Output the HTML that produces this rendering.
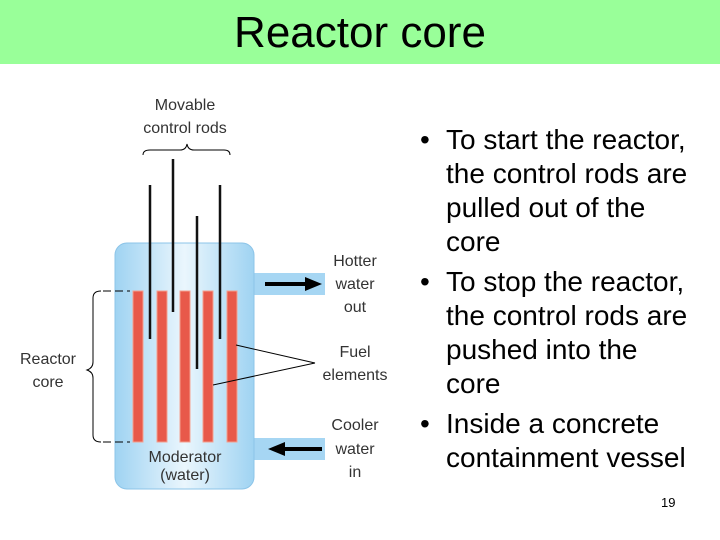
<!DOCTYPE html><html><head><style>
body{margin:0;width:720px;height:540px;background:#fff;position:relative;overflow:hidden;font-family:"Liberation Sans",sans-serif}
.t{position:absolute;left:0;top:0;width:720px;height:64px;background:#99ff99;text-align:center;font-size:44px;line-height:66px}
ul{position:absolute;left:410px;top:123px;margin:0;padding:0;list-style:none;font-size:28px;line-height:34px;white-space:nowrap}
li{padding-left:36px;position:relative;margin-bottom:6px}
li:before{content:"•";position:absolute;left:10px}
.n{position:absolute;left:661px;top:495px;font-size:13px}
</style></head><body>
<div class="t">Reactor core</div>
<svg width="720" height="540" style="position:absolute;left:0;top:0">
<defs><linearGradient id="g" x1="0" x2="1"><stop offset="0" stop-color="#9fd3f2"/><stop offset="0.5" stop-color="#eaf6fd"/><stop offset="1" stop-color="#9fd3f2"/></linearGradient></defs>
<rect x="253" y="273" width="72" height="22" fill="#a6d6f3"/>
<rect x="253" y="438" width="72" height="22" fill="#a6d6f3"/>
<rect x="115" y="243" width="139" height="246" rx="12" fill="url(#g)" stroke="#8cc4e8"/>
<g fill="#e8594a" stroke="#f5a08f" stroke-width="1">
<rect x="133" y="291" width="10" height="151"/><rect x="157" y="291" width="10" height="151"/><rect x="180" y="291" width="10" height="151"/><rect x="203" y="291" width="10" height="151"/><rect x="227" y="291" width="10" height="151"/></g>
<g stroke="#111" stroke-width="2.5"><line x1="150" y1="185" x2="150" y2="339"/><line x1="173" y1="159" x2="173" y2="312"/><line x1="197" y1="216" x2="197" y2="369"/><line x1="220" y1="185" x2="220" y2="339"/></g>
<g stroke="#000" stroke-width="4"><line x1="265" y1="284" x2="308" y2="284"/><line x1="283" y1="449" x2="322" y2="449"/></g>
<polygon points="305,277 322,284 305,291" fill="#000"/><polygon points="285,442 268,449 285,456" fill="#000"/>
<g stroke="#000" stroke-width="1" fill="none">
<path d="M143,155 Q143,150 150,150 L180,150 Q186,150 187,144 Q188,150 194,150 L224,150 Q230,150 230,155"/>
<path d="M101,291 Q93,291 93,298 L93,362 Q93,368 87,370 Q93,372 93,378 L93,435 Q93,442 101,442"/>
<line x1="103" y1="291" x2="130" y2="291" stroke-dasharray="8,4"/><line x1="103" y1="442" x2="130" y2="442" stroke-dasharray="8,4"/>
<line x1="236" y1="345" x2="315" y2="363"/><line x1="213" y1="385" x2="315" y2="363"/></g>
<g font-family="Liberation Sans,sans-serif" font-size="16" fill="#333" text-anchor="middle">
<text x="185" y="110">Movable</text><text x="185" y="133">control rods</text>
<text x="355" y="266">Hotter</text><text x="355" y="289">water</text><text x="355" y="312">out</text>
<text x="355" y="357">Fuel</text><text x="355" y="380">elements</text>
<text x="355" y="430">Cooler</text><text x="355" y="454">water</text><text x="355" y="477">in</text>
<text x="48" y="364">Reactor</text><text x="48" y="387">core</text>
<text x="185" y="462">Moderator</text><text x="185" y="480">(water)</text></g>
</svg>
<ul><li>To start the reactor,<br>the control rods are<br>pulled out of the<br>core</li><li>To stop the reactor,<br>the control rods are<br>pushed into the<br>core</li><li>Inside a concrete<br>containment vessel</li></ul>
<div class="n">19</div>
</body></html>
